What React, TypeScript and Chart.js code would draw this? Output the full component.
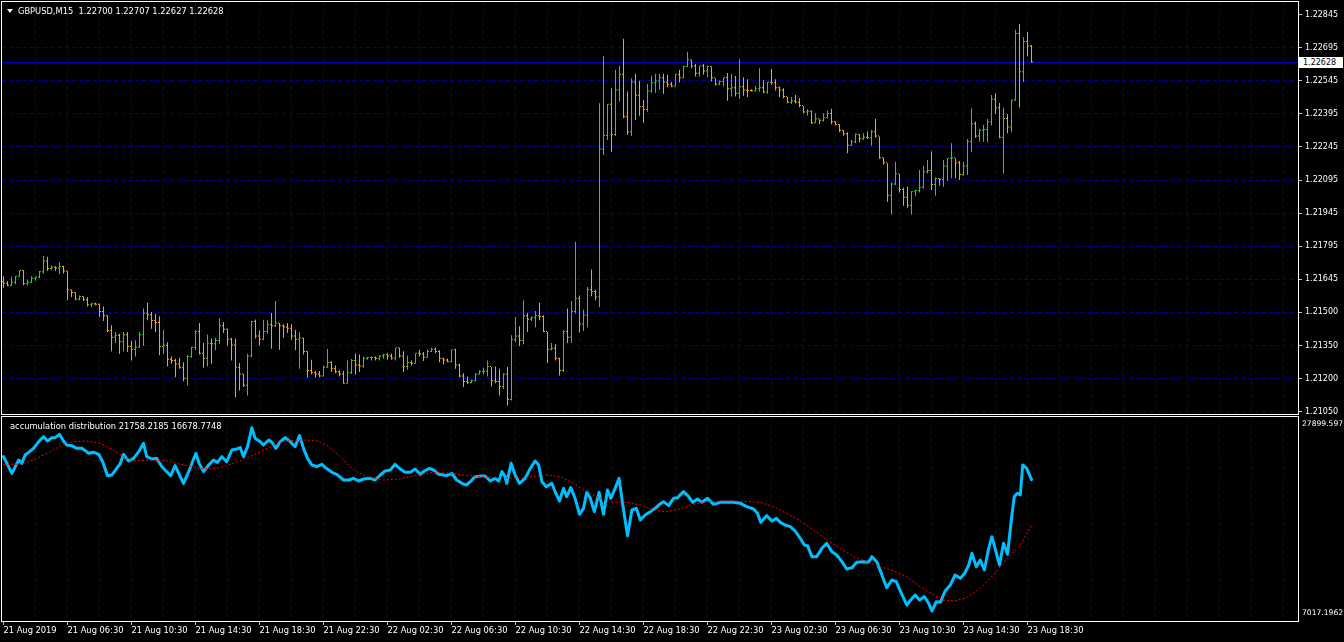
import React, { useEffect, useRef } from 'react';
import { Chart, registerables } from 'chart.js';

Chart.register(...registerables);

// ---------------- data ----------------
const symbolName = 'GBPUSD,M15';
const indicatorName = 'accumulation distribution';

// bottom axis labels, one every 16 bars (4 hours of M15 bars)
const timeLabels = [
  '21 Aug 2019', '21 Aug 06:30', '21 Aug 10:30', '21 Aug 14:30', '21 Aug 18:30', '21 Aug 22:30',
  '22 Aug 02:30', '22 Aug 06:30', '22 Aug 10:30', '22 Aug 14:30', '22 Aug 18:30', '22 Aug 22:30',
  '23 Aug 02:30', '23 Aug 06:30', '23 Aug 10:30', '23 Aug 14:30', '23 Aug 18:30',
];

// price grid levels (step 0.0015) and the labels the terminal prints for them
const priceTicks = [
  1.21045, 1.21195, 1.21345, 1.21495, 1.21645, 1.21795, 1.21945, 1.22095, 1.22245, 1.22395, 1.22545, 1.22695, 1.22845,
];
const priceTickLabels = [
  '1.21050', '1.21200', '1.21350', '1.21500', '1.21645', '1.21795', '1.21945', '1.22095', '1.22245', '1.22395', '1.22545', '1.22695', '1.22845',
];

const adAxisTicks = [7017.1962, 27899.597];
const adAxisLabels = ['7017.1962', '27899.597'];

const opens = [
  1.21632, 1.21625, 1.21616, 1.21629, 1.21656, 1.21683, 1.21622, 1.21629, 1.21647, 1.21653,
  1.21677, 1.21726, 1.21692, 1.21698, 1.21694, 1.21701, 1.2168, 1.21595, 1.21583, 1.21553,
  1.21565, 1.2155, 1.21527, 1.21532, 1.2153, 1.21497, 1.21477, 1.2141, 1.2138, 1.21389,
  1.2136, 1.21391, 1.21338, 1.21326, 1.21335, 1.21391, 1.21489, 1.21482, 1.21456, 1.21447,
  1.21338, 1.21344, 1.2128, 1.21274, 1.21259, 1.21244, 1.21194, 1.21292, 1.21333, 1.21406,
  1.21307, 1.21285, 1.21353, 1.2135, 1.21365, 1.21432, 1.21416, 1.21371, 1.21345, 1.21244,
  1.21213, 1.21162, 1.21295, 1.21451, 1.21386, 1.21371, 1.21406, 1.21436, 1.21432, 1.21444,
  1.21432, 1.21426, 1.21421, 1.21386, 1.21371, 1.21376, 1.21315, 1.21229, 1.21219, 1.21213,
  1.21204, 1.21244, 1.21265, 1.21238, 1.21223, 1.21213, 1.21171, 1.21219, 1.21274, 1.21254,
  1.2125, 1.21285, 1.21288, 1.21289, 1.21283, 1.21295, 1.21301, 1.21295, 1.21286, 1.21332,
  1.21295, 1.21247, 1.21265, 1.21262, 1.21307, 1.21304, 1.21289, 1.21315, 1.21326, 1.21315,
  1.21285, 1.21277, 1.21269, 1.21323, 1.21254, 1.21204, 1.21179, 1.21174, 1.21183, 1.21213,
  1.21223, 1.21226, 1.21247, 1.21183, 1.21179, 1.21156, 1.21213, 1.21098, 1.21368, 1.21386,
  1.21365, 1.21477, 1.21462, 1.21468, 1.21477, 1.21474, 1.21406, 1.21326, 1.2133, 1.21285,
  1.21229, 1.21406, 1.2138, 1.21497, 1.21557, 1.2144, 1.21481, 1.21595, 1.21587, 1.21562,
  1.22234, 1.22295, 1.22436, 1.22299, 1.22501, 1.22572, 1.2238, 1.2231, 1.22537, 1.22477,
  1.22425, 1.22413, 1.22496, 1.22534, 1.22542, 1.22557, 1.22537, 1.22527, 1.22519, 1.22572,
  1.22557, 1.22607, 1.22637, 1.2261, 1.22577, 1.2261, 1.22587, 1.22607, 1.22557, 1.22527,
  1.2254, 1.22557, 1.22507, 1.22511, 1.22486, 1.22516, 1.22501, 1.22499, 1.22498, 1.22507,
  1.22511, 1.22492, 1.22537, 1.22534, 1.22511, 1.22501, 1.22471, 1.22446, 1.22451, 1.22446,
  1.22431, 1.22401, 1.22405, 1.22352, 1.22371, 1.22364, 1.22375, 1.22395, 1.22357, 1.22345,
  1.22318, 1.22303, 1.22251, 1.22266, 1.223, 1.22281, 1.22287, 1.22284, 1.22312, 1.22292,
  1.22194, 1.22171, 1.22024, 1.22075, 1.22121, 1.2205, 1.22015, 1.21978, 1.22042, 1.22045,
  1.2206, 1.2213, 1.22136, 1.22072, 1.221, 1.22095, 1.22156, 1.22191, 1.22194, 1.22171,
  1.22118, 1.22156, 1.22266, 1.22348, 1.22292, 1.22318, 1.22322, 1.22357, 1.22459, 1.22421,
  1.22287, 1.22372, 1.22333, 1.22454, 1.22757, 1.22584, 1.22721, 1.227,
];

const highs = [
  1.21659, 1.21636, 1.21656, 1.2166, 1.21686, 1.21686, 1.21644, 1.21659, 1.21656, 1.21683,
  1.2175, 1.21747, 1.21706, 1.21704, 1.21722, 1.21706, 1.21683, 1.21598, 1.21586, 1.21571,
  1.21568, 1.21565, 1.21538, 1.21538, 1.21535, 1.21522, 1.21482, 1.21436, 1.21406, 1.21398,
  1.21406, 1.21406, 1.21365, 1.21368, 1.21406, 1.21513, 1.21538, 1.21497, 1.21489, 1.21477,
  1.21416, 1.2136, 1.21295, 1.21285, 1.21289, 1.21269, 1.213, 1.21338, 1.21414, 1.21447,
  1.21356, 1.21395, 1.21376, 1.2138, 1.21468, 1.21451, 1.21421, 1.2138, 1.21376, 1.21265,
  1.21216, 1.21307, 1.21456, 1.21463, 1.21414, 1.21462, 1.21459, 1.21492, 1.21547, 1.21447,
  1.21441, 1.21447, 1.21441, 1.21416, 1.21406, 1.2138, 1.21319, 1.2128, 1.21229, 1.21229,
  1.21254, 1.21329, 1.21273, 1.21254, 1.21232, 1.21229, 1.21277, 1.21283, 1.21307, 1.21304,
  1.21295, 1.21292, 1.21295, 1.21295, 1.213, 1.21307, 1.2131, 1.21307, 1.21335, 1.21335,
  1.21319, 1.21298, 1.21277, 1.2131, 1.21326, 1.21315, 1.21326, 1.21335, 1.21335, 1.21323,
  1.21289, 1.21286, 1.21326, 1.2133, 1.21262, 1.21219, 1.21204, 1.21189, 1.21219, 1.21232,
  1.21244, 1.21277, 1.21247, 1.2125, 1.21239, 1.21219, 1.21247, 1.21391, 1.21474, 1.21432,
  1.2155, 1.21492, 1.21477, 1.21501, 1.21538, 1.21482, 1.21406, 1.21356, 1.2135, 1.21289,
  1.21414, 1.21512, 1.21547, 1.21815, 1.21572, 1.21507, 1.2161, 1.21689, 1.21598, 1.22443,
  1.22658, 1.2244, 1.22511, 1.22595, 1.22613, 1.22736, 1.22496, 1.22557, 1.22577, 1.22545,
  1.22458, 1.22531, 1.22567, 1.22577, 1.22577, 1.22577, 1.22572, 1.2254, 1.22577, 1.22595,
  1.22613, 1.22677, 1.2264, 1.22621, 1.22613, 1.22621, 1.22613, 1.2261, 1.22557, 1.22546,
  1.22561, 1.2258, 1.22577, 1.22567, 1.22643, 1.22561, 1.22552, 1.22507, 1.22522, 1.22602,
  1.22549, 1.2254, 1.22598, 1.22552, 1.22519, 1.22511, 1.22471, 1.22471, 1.22481, 1.22466,
  1.22431, 1.22416, 1.2241, 1.22398, 1.22371, 1.22398, 1.2241, 1.22418, 1.22363, 1.22348,
  1.22322, 1.22312, 1.22277, 1.22306, 1.22303, 1.22307, 1.22315, 1.22322, 1.22372, 1.22292,
  1.22197, 1.22171, 1.22084, 1.22178, 1.22121, 1.2206, 1.22065, 1.22045, 1.2205, 1.22141,
  1.2216, 1.22186, 1.22224, 1.22106, 1.22103, 1.22186, 1.22194, 1.22262, 1.22194, 1.22181,
  1.22178, 1.22281, 1.22421, 1.2236, 1.22327, 1.22345, 1.22372, 1.22481, 1.22489, 1.22444,
  1.22424, 1.22394, 1.22459, 1.22777, 1.22803, 1.22742, 1.22766, 1.22707,
];

const lows = [
  1.21607, 1.21613, 1.21613, 1.21622, 1.21656, 1.21618, 1.21618, 1.21629, 1.21638, 1.2165,
  1.21671, 1.21683, 1.21686, 1.21683, 1.21668, 1.21671, 1.2155, 1.21565, 1.2155, 1.2155,
  1.21547, 1.21522, 1.21519, 1.21527, 1.21474, 1.21456, 1.21406, 1.21319, 1.21356, 1.21307,
  1.21319, 1.21315, 1.21277, 1.21295, 1.21335, 1.21344, 1.21459, 1.21421, 1.21406, 1.213,
  1.21307, 1.2125, 1.21262, 1.21201, 1.21239, 1.21183, 1.21163, 1.21289, 1.21323, 1.21304,
  1.21244, 1.2125, 1.21262, 1.21323, 1.21353, 1.21401, 1.21345, 1.21277, 1.2111, 1.21141,
  1.21156, 1.21118, 1.21292, 1.21376, 1.21345, 1.21368, 1.21398, 1.2133, 1.21429, 1.21326,
  1.2138, 1.21401, 1.21371, 1.21323, 1.21239, 1.21304, 1.21198, 1.21213, 1.21198, 1.21201,
  1.21204, 1.21244, 1.21224, 1.21219, 1.21204, 1.21171, 1.21171, 1.21216, 1.21213, 1.21224,
  1.21244, 1.2128, 1.21277, 1.21277, 1.21277, 1.21285, 1.2128, 1.2128, 1.21277, 1.21289,
  1.21224, 1.21235, 1.21254, 1.21262, 1.21295, 1.21274, 1.21289, 1.21315, 1.2131, 1.21269,
  1.21259, 1.21269, 1.21269, 1.21239, 1.21201, 1.21156, 1.21171, 1.21174, 1.21183, 1.21213,
  1.21213, 1.21204, 1.21159, 1.21174, 1.21118, 1.21148, 1.21073, 1.21095, 1.2136, 1.21341,
  1.2135, 1.21406, 1.21456, 1.21426, 1.21459, 1.21406, 1.21265, 1.21323, 1.21277, 1.21209,
  1.21224, 1.21356, 1.21356, 1.2149, 1.21405, 1.2141, 1.21428, 1.21568, 1.21549, 1.21519,
  1.22208, 1.22277, 1.22224, 1.22295, 1.22451, 1.22375, 1.22299, 1.22295, 1.22367, 1.22386,
  1.22355, 1.22405, 1.22491, 1.22491, 1.22504, 1.22486, 1.22516, 1.22516, 1.22519, 1.22537,
  1.22557, 1.22607, 1.22602, 1.22564, 1.22564, 1.22572, 1.22561, 1.22542, 1.22524, 1.22527,
  1.22519, 1.22455, 1.22474, 1.22474, 1.22463, 1.22477, 1.22471, 1.22496, 1.22496, 1.22496,
  1.22489, 1.22486, 1.22527, 1.22501, 1.22471, 1.22466, 1.22443, 1.2244, 1.22443, 1.22425,
  1.22398, 1.22386, 1.22349, 1.22352, 1.22349, 1.2236, 1.22374, 1.22348, 1.22342, 1.22312,
  1.22297, 1.22216, 1.22251, 1.22262, 1.22266, 1.22277, 1.22281, 1.22251, 1.22287, 1.22191,
  1.22166, 1.21997, 1.21939, 1.22072, 1.22039, 1.21978, 1.21969, 1.21939, 1.22024, 1.22039,
  1.22057, 1.22125, 1.2205, 1.22024, 1.22069, 1.22065, 1.22091, 1.22103, 1.22103, 1.22095,
  1.22115, 1.22118, 1.22221, 1.22287, 1.22269, 1.22269, 1.22266, 1.22342, 1.22394, 1.22284,
  1.22125, 1.22307, 1.22312, 1.22454, 1.22424, 1.22539, 1.22656, 1.22627,
];

const closes = [
  1.21625, 1.21616, 1.21629, 1.21656, 1.21683, 1.21622, 1.21629, 1.21647, 1.21653, 1.21677,
  1.21726, 1.21692, 1.21698, 1.21694, 1.21701, 1.2168, 1.21595, 1.21583, 1.21553, 1.21565,
  1.2155, 1.21527, 1.21532, 1.2153, 1.21497, 1.21477, 1.2141, 1.2138, 1.21389, 1.2136,
  1.21391, 1.21338, 1.21326, 1.21335, 1.21391, 1.21489, 1.21482, 1.21456, 1.21447, 1.21338,
  1.21344, 1.2128, 1.21274, 1.21259, 1.21244, 1.21194, 1.21292, 1.21333, 1.21406, 1.21307,
  1.21285, 1.21353, 1.2135, 1.21365, 1.21432, 1.21416, 1.21371, 1.21345, 1.21244, 1.21213,
  1.21162, 1.21295, 1.21451, 1.21386, 1.21371, 1.21406, 1.21436, 1.21432, 1.21444, 1.21432,
  1.21426, 1.21421, 1.21386, 1.21371, 1.21376, 1.21315, 1.21229, 1.21219, 1.21213, 1.21204,
  1.21244, 1.21265, 1.21238, 1.21223, 1.21213, 1.21171, 1.21219, 1.21274, 1.21254, 1.2125,
  1.21285, 1.21288, 1.21289, 1.21283, 1.21295, 1.21301, 1.21295, 1.21286, 1.21332, 1.21295,
  1.21247, 1.21265, 1.21262, 1.21307, 1.21304, 1.21289, 1.21315, 1.21326, 1.21315, 1.21285,
  1.21277, 1.21269, 1.21323, 1.21254, 1.21204, 1.21179, 1.21174, 1.21183, 1.21213, 1.21223,
  1.21226, 1.21247, 1.21183, 1.21179, 1.21156, 1.21213, 1.21098, 1.21368, 1.21386, 1.21365,
  1.21477, 1.21462, 1.21468, 1.21477, 1.21474, 1.21406, 1.21326, 1.2133, 1.21285, 1.21229,
  1.21406, 1.2138, 1.21497, 1.21557, 1.2144, 1.21481, 1.21595, 1.21587, 1.21562, 1.22234,
  1.22295, 1.22436, 1.22299, 1.22501, 1.22572, 1.2238, 1.2231, 1.22537, 1.22477, 1.22425,
  1.22413, 1.22496, 1.22534, 1.22542, 1.22557, 1.22537, 1.22527, 1.22519, 1.22572, 1.22557,
  1.22607, 1.22637, 1.2261, 1.22577, 1.2261, 1.22587, 1.22607, 1.22557, 1.22527, 1.2254,
  1.22557, 1.22507, 1.22511, 1.22486, 1.22516, 1.22501, 1.22499, 1.22498, 1.22507, 1.22511,
  1.22492, 1.22537, 1.22534, 1.22511, 1.22501, 1.22471, 1.22446, 1.22451, 1.22446, 1.22431,
  1.22401, 1.22405, 1.22352, 1.22371, 1.22364, 1.22375, 1.22395, 1.22357, 1.22345, 1.22318,
  1.22303, 1.22251, 1.22266, 1.223, 1.22281, 1.22287, 1.22284, 1.22312, 1.22292, 1.22194,
  1.22171, 1.22024, 1.22075, 1.22121, 1.2205, 1.22015, 1.21978, 1.22042, 1.22045, 1.2206,
  1.2213, 1.22136, 1.22072, 1.221, 1.22095, 1.22156, 1.22191, 1.22194, 1.22171, 1.22118,
  1.22156, 1.22266, 1.22348, 1.22292, 1.22318, 1.22322, 1.22357, 1.22459, 1.22421, 1.22287,
  1.22372, 1.22333, 1.22454, 1.22757, 1.22584, 1.22721, 1.227, 1.22628,
];

// Accumulation/Distribution line, read at these bar positions
const adBars = [
  0, 2.1, 3.8, 4.6, 5.4, 6.3, 7.5, 8.8, 10, 11, 12.1, 12.9, 14, 15, 15.8, 17.1, 18.3, 19.6, 21.3, 22.5,
  23.8, 24.8, 26, 27.1, 28.3, 29.2, 30, 31.3, 32.5, 33.8, 35, 35.8, 37.1, 38.3, 39.6, 40.8, 41.8, 42.9, 44, 45,
  46.3, 47.1, 48.1, 48.9, 50, 51.3, 52.5, 53.5, 54.6, 55.8, 57.1, 58.3, 59.2, 60, 61, 62.1, 62.9, 64.2, 65, 66.3,
  67.1, 68.1, 69.2, 70.4, 71.7, 72.9, 74, 75, 76, 77.1, 78.3, 79.6, 80.7, 82.1, 83.3, 85, 86.3, 87.5, 88.8, 90,
  91.7, 92.9, 94.2, 95.4, 96.7, 97.9, 99.2, 100.4, 101.7, 102.9, 104.2, 105.2, 106.5, 107.5, 108.8, 110, 110.8, 112.1, 113.3, 114.6,
  115.7, 116.7, 117.9, 119.2, 120.4, 121.7, 122.9, 123.8, 124.6, 125.4, 125.8, 126.9, 127.9, 129,
  130.4, 131.7, 132.9, 133.8, 134.6, 135.7, 137.1, 137.9, 139, 140,
  140.8, 141.8, 142.9, 144, 145, 145.8, 146.7, 147.7, 148.9, 150,
  151, 151.8, 152.9, 153.9, 154.8, 156, 157.1, 158.2, 159.2, 160.4,
  161.7, 162.9, 164, 165, 166.3, 167.5, 168.5, 170, 171.3, 172.3,
  173.5, 174.6, 176, 177.5, 179.2, 180.8, 182.5, 184.2, 185.8, 187.5,
  188.5, 189.3, 190.8, 192.1, 193.2, 194.2, 195.4, 196.7, 197.9, 199.2,
  200.2, 201, 202.1, 203.3, 204.6, 205.8, 207.1, 208.3, 209.6, 210.8,
  212.1, 213.3, 215, 216.3, 217.1, 218.3, 219.6, 220.8, 222.1, 223.2,
  224.2, 225.8, 226.8, 227.9, 229, 230.2, 231.3, 232.1, 233.2, 234.2,
  235.4, 236.7, 237.9, 239.2, 240.3, 241.3, 242.1, 243.2, 244.2, 245.2,
  246.3, 247.1, 247.9, 249, 250, 251, 252.1, 252.7, 253.5, 254.2,
  254.8, 255.8, 257,
];

const adValues = [
  24290, 22449, 23922, 23554, 24474, 24769, 25211, 25948, 26500, 26021, 26390, 26390, 26758, 26021, 25579, 25506, 25211, 25211, 24659, 24769,
  24548, 23738, 22191, 22265, 23001, 23554, 24548, 23811, 24106, 24843, 25763, 24290, 24032, 24106, 23185, 22633, 22191, 23296, 22265, 21344,
  22633, 23554, 24659, 23554, 22633, 23370, 23922, 23664, 24290, 23738, 25027, 25137, 25285, 24290, 25395, 27494, 26316, 25948, 25579, 26132,
  25874, 25211, 25948, 26390, 25948, 25395, 26611, 25211, 24106, 23370, 23185, 23443, 23001, 22559, 22338, 21712, 21712, 21896, 21602, 21823,
  21896, 21712, 22265, 22707, 22817, 23443, 22928, 22559, 22559, 22928, 22338, 22707, 23001, 22817, 22338, 22265, 22191, 22449, 21712, 21344,
  21160, 21528, 22081, 22154, 22154, 21602, 21896, 21602, 22633, 22081, 21344, 23554, 22265, 21344,
  21896, 23001, 23811, 23370, 21528, 20976, 21344, 20423, 19392, 20791,
  19871, 20865, 19687, 17919, 18582, 20350, 19687, 18213, 20350, 17919,
  20607, 19687, 20791, 21896, 19024, 15562, 18398, 18582, 17293, 17845,
  18213, 18582, 19024, 19318, 18876, 19687, 19760, 20423, 19871, 19245,
  19613, 19245, 19687, 19024, 19245, 19245, 19245, 19134, 18766, 18508,
  18029, 17035, 17771, 17182, 17477, 17035, 16740, 16556, 16077, 15267,
  14530, 14457, 13241, 13241, 14162, 14714, 13794, 13425, 12689, 11878,
  12026, 12615, 12689, 12615, 13241, 12689, 11216, 9816, 10663, 10479,
  9448, 7901, 8454, 9006, 8454, 8822, 8085, 7238, 8269, 8196,
  9448, 10111, 11216, 10848, 11400, 12321, 13609, 12137, 12873, 11768,
  14162, 15451, 14162, 12321, 14714, 13499, 17845, 19871, 20239, 20055,
  23370, 23001, 21758.2185,
];

// moving average of the A/D line (red dotted), read at these bar positions
const maBars = [
  0, 4.2, 7.5, 11.7, 15, 17.5, 20.8, 24.2, 27.5, 30,
  32.5, 36.7, 40.8, 45, 49.2, 53.3, 57.5, 60.8, 64.2, 67.5,
  70.8, 74.2, 78.3, 80.8, 84.2, 87.5, 90.8, 95, 99.2, 103.3,
  107.5, 111.7, 115.8, 120, 124.2, 129, 132.5, 135.8, 139.2, 142.5,
  145.8, 149.2, 152.5, 155.8, 159.2, 162.5, 165.8, 169.2, 172.5, 175.8,
  179.2, 182.5, 185.8, 189.2, 192.5, 195.8, 199.2, 202.5, 205.8, 209.2,
  212.5, 215.8, 219.2, 222.5, 225.8, 229.2, 232.5, 235, 237.5, 240.8,
  244.2, 247.5, 250.8, 254.2, 257,
];

const maValues = [
  23443, 23443, 23922, 24843, 25653, 25948, 26021, 25763, 25027, 24290,
  23811, 23922, 23811, 23370, 23001, 23001, 23554, 24106, 24843, 25579,
  26021, 26132, 26095, 25579, 24290, 22817, 22081, 21712, 21823, 22265,
  22559, 22449, 22191, 22081, 21970, 21896, 22081, 22265, 22081, 21344,
  20423, 19687, 19245, 19245, 18950, 18398, 18213, 18508, 19024, 19318,
  19392, 19392, 19318, 19245, 18766, 18029, 17182, 16188, 15083, 14162,
  13241, 12689, 12137, 11658, 11032, 9927, 9006, 8454, 8343, 8712,
  9743, 11216, 12984, 14530, 16678.7748,
];

// ---------------- styling / layout ----------------
const FONT = '"DejaVu Sans", sans-serif';
const FONT_SIZE = 8.3;
const AXIS_FONT_SIZE = 8;
const AD_AXIS_FONT_SIZE = 7.6;
const X_MIN = -0.375;
const X_MAX = 323.625;
const PRICE_MIN = 1.210341;
const PRICE_MAX = 1.229023;
const AD_MIN = 6133;
const AD_MAX = 28673;
const UP = '#32cd32';
const DOWN = '#ffa500';
const GRID = '#000096';
const BID = '#0000cd';
const AD_COLOR = '#00bfff';
const MA_COLOR = '#ff0000';
const AXIS_W = 46;
const CLEAR = 'rgba(0,0,0,0)';

const framePlugin = {
  id: 'panelFrame',
  afterDraw(chart: any) {
    const { ctx, chartArea: a } = chart;
    ctx.save();
    ctx.strokeStyle = '#ffffff';
    ctx.lineWidth = 1;
    ctx.strokeRect(a.left - 0.5, a.top - 0.5, a.right - a.left + 1, a.bottom - a.top + 1);
    ctx.restore();
  },
};

const xGridTicks = (scale: any) => {
  const t: any[] = [];
  for (let v = 0; v <= X_MAX; v += 8) t.push({ value: v });
  scale.ticks = t;
};

const noPad = (s: any) => {
  s.paddingLeft = 0;
  s.paddingRight = 0;
  s.paddingTop = 0;
  s.paddingBottom = 0;
};

const labelFor = (v: number) => {
  const k = v / 16;
  return Number.isInteger(k) && k < timeLabels.length ? timeLabels[k] : '';
};

export default function App() {
  const priceRef = useRef<HTMLCanvasElement>(null);
  const adRef = useRef<HTMLCanvasElement>(null);

  useEffect(() => {
    Chart.defaults.font.family = FONT;
    const barColors = closes.map((c, i) => (c >= opens[i] ? UP : DOWN));
    const barCommon = {
      barThickness: 1,
      minBarLength: 1,
      borderWidth: 0,
      inflateAmount: 0,
      backgroundColor: barColors,
      grouped: true,
    };
    const lastClose = closes[closes.length - 1];
    const topTick = priceTicks[priceTicks.length - 1];

    const priceChart = new Chart(priceRef.current as HTMLCanvasElement, {
      type: 'bar',
      data: {
        datasets: [
          { ...barCommon, label: 'Open', data: opens.map((o, i) => ({ x: i, y: [o, o] })) },
          { ...barCommon, label: 'High-Low', data: lows.map((l, i) => ({ x: i, y: [l, highs[i]] })) },
          { ...barCommon, label: 'Close', data: closes.map((c, i) => ({ x: i, y: [c, c] })) },
          {
            type: 'line',
            label: 'Bid',
            data: [{ x: X_MIN, y: lastClose }, { x: X_MAX, y: lastClose }],
            borderColor: BID,
            borderWidth: 1,
            pointRadius: 0,
          },
        ] as any,
      },
      options: {
        responsive: false,
        animation: false,
        devicePixelRatio: 1,
        events: [],
        layout: { padding: { left: 2, top: 2, right: 0, bottom: 2 }, autoPadding: false },
        plugins: { legend: { display: false }, tooltip: { enabled: false }, title: { display: false } },
        scales: {
          x: {
            type: 'linear',
            min: X_MIN,
            max: X_MAX,
            offset: false,
            afterBuildTicks: xGridTicks,
            afterFit: (s: any) => { s.height = 0; noPad(s); },
            ticks: { display: false },
            grid: {
              offset: false,
              color: (ctx: any) => (ctx.tick && ctx.tick.value === 0 ? CLEAR : GRID),
              drawTicks: false,
              lineWidth: 1,
            },
            border: { display: false, dash: [4, 3] },
          },
          y: {
            type: 'linear',
            position: 'right',
            min: PRICE_MIN,
            max: PRICE_MAX,
            beginAtZero: false,
            afterBuildTicks: (s: any) => { s.ticks = priceTicks.map((v) => ({ value: v })); },
            afterFit: (s: any) => { s.width = AXIS_W; noPad(s); },
            ticks: {
              color: '#ffffff',
              font: { family: FONT, size: AXIS_FONT_SIZE },
              padding: 3,
              autoSkip: false,
              callback: (_v: any, i: number) => priceTickLabels[i],
            },
            grid: {
              color: (ctx: any) => (ctx.tick && ctx.tick.value === topTick ? CLEAR : GRID),
              tickColor: '#c8c8c8',
              tickLength: 4,
              lineWidth: 1,
            },
            border: { display: false, dash: [4, 3] },
          },
        },
      } as any,
      plugins: [framePlugin],
    });

    const adChart = new Chart(adRef.current as HTMLCanvasElement, {
      type: 'line',
      data: {
        datasets: [
          {
            label: 'MA',
            data: maBars.map((b, i) => ({ x: b, y: maValues[i] })),
            borderColor: MA_COLOR,
            borderWidth: 1,
            borderDash: [2, 2],
            pointRadius: 0,
            tension: 0,
          },
          {
            label: 'A/D',
            data: adBars.map((b, i) => ({ x: b, y: adValues[i] })),
            borderColor: AD_COLOR,
            borderWidth: 3,
            pointRadius: 0,
            tension: 0,
            borderJoinStyle: 'round',
            borderCapStyle: 'round',
          },
        ] as any,
      },
      options: {
        responsive: false,
        animation: false,
        devicePixelRatio: 1,
        events: [],
        layout: { padding: { left: 2, top: 2, right: 0, bottom: 0 }, autoPadding: false },
        plugins: { legend: { display: false }, tooltip: { enabled: false }, title: { display: false } },
        scales: {
          x: {
            type: 'linear',
            min: X_MIN,
            max: X_MAX,
            offset: false,
            afterBuildTicks: xGridTicks,
            afterFit: (s: any) => { s.height = 21; noPad(s); },
            ticks: {
              color: '#ffffff',
              font: { family: FONT, size: FONT_SIZE },
              align: 'start',
              padding: 1,
              autoSkip: false,
              maxRotation: 0,
              minRotation: 0,
              callback: (v: any) => labelFor(Number(v)),
            },
            grid: {
              offset: false,
              color: (ctx: any) => (ctx.tick && ctx.tick.value === 0 ? CLEAR : GRID),
              tickColor: (ctx: any) => (ctx.tick && labelFor(ctx.tick.value) !== '' ? '#c8c8c8' : CLEAR),
              tickLength: 4,
              lineWidth: 1,
            },
            border: { display: false, dash: [4, 3] },
          },
          y: {
            type: 'linear',
            position: 'right',
            min: AD_MIN,
            max: AD_MAX,
            beginAtZero: false,
            afterBuildTicks: (s: any) => { s.ticks = adAxisTicks.map((v) => ({ value: v })); },
            afterFit: (s: any) => { s.width = AXIS_W; noPad(s); },
            ticks: {
              color: '#ffffff',
              font: { family: FONT, size: AD_AXIS_FONT_SIZE },
              padding: 4,
              autoSkip: false,
              callback: (_v: any, i: number) => adAxisLabels[i],
            },
            grid: { display: false, drawTicks: false, tickLength: 0 },
            border: { display: false },
          },
        },
      } as any,
      plugins: [framePlugin],
    });

    return () => {
      priceChart.destroy();
      adChart.destroy();
    };
  }, []);

  const n = closes.length - 1;
  const headerText = `${symbolName}  ${opens[n].toFixed(5)} ${highs[n].toFixed(5)} ${lows[n].toFixed(5)} ${closes[n].toFixed(5)}`;
  const adText = `${indicatorName} ${adValues[adValues.length - 1].toFixed(4)} ${maValues[maValues.length - 1].toFixed(4)}`;
  const textBase: React.CSSProperties = {
    position: 'absolute',
    color: '#ffffff',
    fontFamily: FONT,
    fontSize: FONT_SIZE,
    lineHeight: '10px',
    whiteSpace: 'pre',
  };

  return (
    <div style={{ position: 'fixed', left: 0, top: 0, width: 1344, height: 642, background: '#000000', overflow: 'hidden' }}>
      <canvas ref={priceRef} width={1344} height={416} style={{ position: 'absolute', left: 0, top: 0 }} />
      <canvas ref={adRef} width={1344} height={227} style={{ position: 'absolute', left: 0, top: 415 }} />
      <div
        style={{
          position: 'absolute', left: 7, top: 9, width: 0, height: 0,
          borderLeft: '3px solid transparent', borderRight: '3px solid transparent', borderTop: '4px solid #ffffff',
        }}
      />
      <div style={{ ...textBase, left: 18, top: 6 }}>{headerText}</div>
      <div style={{ ...textBase, left: 10, top: 421 }}>{adText}</div>
      <div
        style={{
          ...textBase, left: 1299, top: 57, width: 44, height: 11, lineHeight: '11px', fontSize: AXIS_FONT_SIZE,
          background: '#ffffff', color: '#000000', paddingLeft: 4, boxSizing: 'border-box',
        }}
      >
        {closes[n].toFixed(5)}
      </div>
    </div>
  );
}
